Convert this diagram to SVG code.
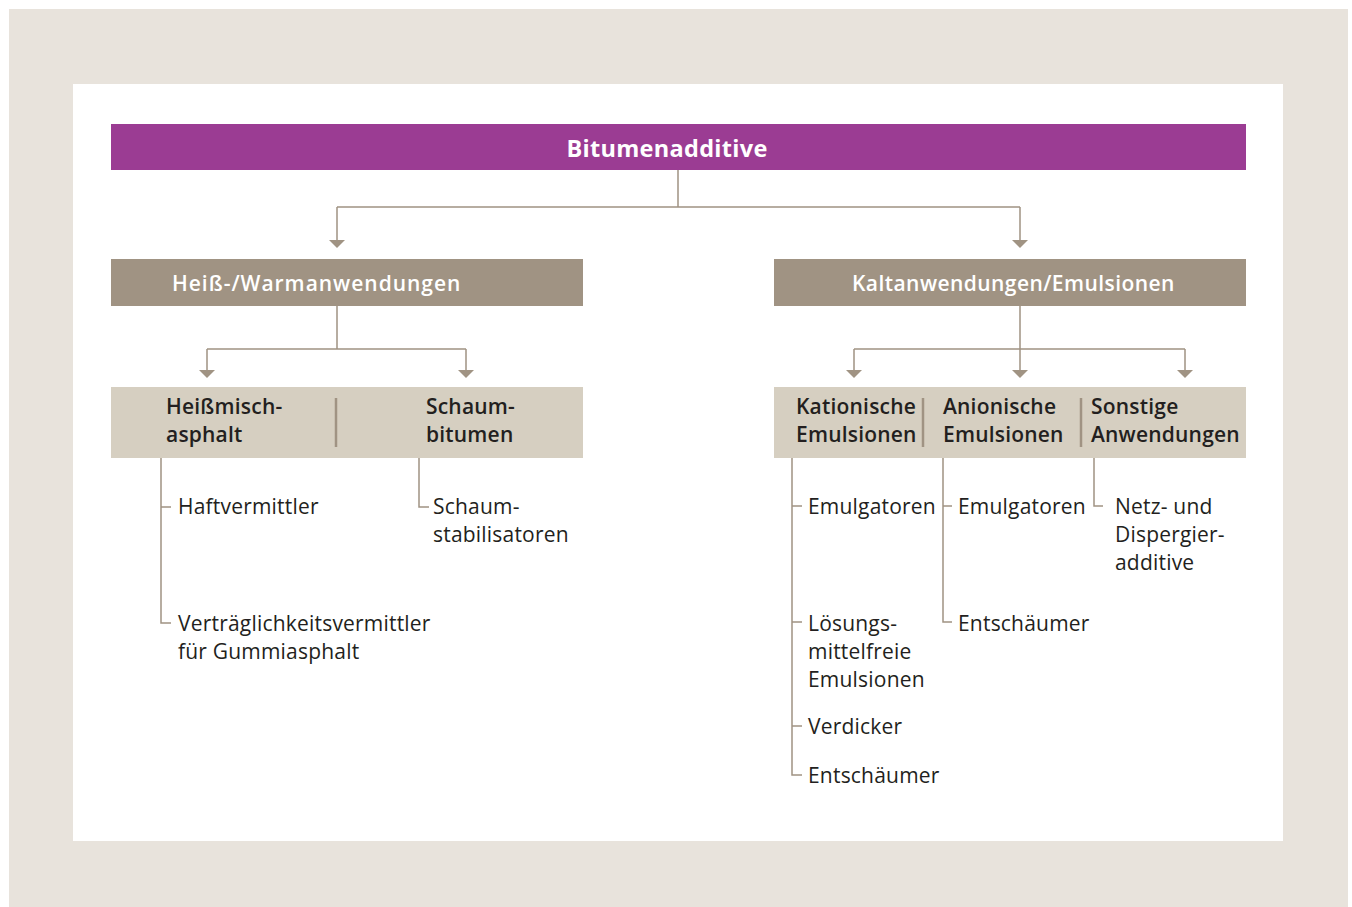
<svg xmlns="http://www.w3.org/2000/svg" width="1352" height="907" viewBox="0 0 1352 907">
<style>
.t{font-family:"Open Sans","Noto Sans","Liberation Sans",sans-serif;font-size:21px;letter-spacing:0.2px;fill:#231f20}
.h{font-family:"Open Sans","Noto Sans","Liberation Sans",sans-serif;font-size:21px;font-weight:600;letter-spacing:0.6px;fill:#ffffff}
.s{font-family:"Open Sans","Noto Sans","Liberation Sans",sans-serif;font-size:21px;font-weight:600;letter-spacing:0.2px;fill:#231f20}
.c{fill:none;stroke:#a09383;stroke-width:1.5}
.sep{stroke:#a09383;stroke-width:2.5}
.a{fill:#a09383}
</style>
<rect x="0" y="0" width="1352" height="907" fill="#ffffff"/>
<rect x="9" y="9" width="1339" height="898" fill="#e8e3dc"/>
<rect x="73" y="84" width="1210" height="757" fill="#ffffff"/>

<g id="connectors">
<path class="c" d="M678,170 V207 M337,207 H1020 M337,207 V240 M1020,207 V240"/>
<path class="a" d="M329,240 L345,240 L337,248 Z"/>
<path class="a" d="M1012,240 L1028,240 L1020,248 Z"/>
<path class="c" d="M337,306 V349 M207,349 H466 M207,349 V370 M466,349 V370"/>
<path class="a" d="M199,370 L215,370 L207,378 Z"/>
<path class="a" d="M458,370 L474,370 L466,378 Z"/>
<path class="c" d="M1020,306 V349 M854,349 H1185 M854,349 V370 M1020,349 V370 M1185,349 V370"/>
<path class="a" d="M846,370 L862,370 L854,378 Z"/>
<path class="a" d="M1012,370 L1028,370 L1020,378 Z"/>
<path class="a" d="M1177,370 L1193,370 L1185,378 Z"/>
<path class="c" d="M161,458 V623 H171 M161,507 H171"/>
<path class="c" d="M419,458 V507 H429"/>
<path class="c" d="M792,458 V775 H802 M792,506 H802 M792,622 H802 M792,726 H802"/>
<path class="c" d="M943,458 V622 H952 M943,506 H952"/>
<path class="c" d="M1094,458 V506 H1103"/>
</g>

<g id="root">
<rect x="111" y="124" width="1135" height="46" fill="#9b3c93"/>
<text x="667" y="157" text-anchor="middle" class="h" style="font-size:23.5px;font-weight:700;letter-spacing:0.3px">Bitumenadditive</text>
</g>

<g id="heiss">
<rect x="111" y="259" width="472" height="47" fill="#a09383"/>
<text x="172" y="291" class="h" textLength="289">Heiß-/Warmanwendungen</text>
</g>
<g id="kalt">
<rect x="774" y="259" width="472" height="47" fill="#a09383"/>
<text x="852" y="291" class="h" textLength="323">Kaltanwendungen/Emulsionen</text>
</g>

<g id="heiss-sub">
<rect x="111" y="387" width="472" height="71" fill="#d6cfc1"/>
<line class="sep" x1="336" y1="398" x2="336" y2="447"/>
<text class="s"><tspan x="166" y="414">Heißmisch-</tspan><tspan x="166" y="442">asphalt</tspan></text>
<text class="s"><tspan x="426" y="414">Schaum-</tspan><tspan x="426" y="442">bitumen</tspan></text>
</g>

<g id="kalt-sub">
<rect x="774" y="387" width="472" height="71" fill="#d6cfc1"/>
<line class="sep" x1="923" y1="398" x2="923" y2="447"/>
<line class="sep" x1="1081" y1="398" x2="1081" y2="447"/>
<text class="s"><tspan x="796" y="414">Kationische</tspan><tspan x="796" y="442">Emulsionen</tspan></text>
<text class="s"><tspan x="943" y="414">Anionische</tspan><tspan x="943" y="442">Emulsionen</tspan></text>
<text class="s"><tspan x="1091" y="414">Sonstige</tspan><tspan x="1091" y="442">Anwendungen</tspan></text>
</g>

<g id="leaf-haft"><text class="t" x="178" y="514">Haftvermittler</text></g>
<g id="leaf-vertr"><text class="t"><tspan x="178" y="631">Verträglichkeitsvermittler</tspan><tspan x="178" y="659">für Gummiasphalt</tspan></text></g>
<g id="leaf-schaum"><text class="t"><tspan x="433" y="514">Schaum-</tspan><tspan x="433" y="542">stabilisatoren</tspan></text></g>
<g id="leaf-emul1"><text class="t" x="808" y="514">Emulgatoren</text></g>
<g id="leaf-loes"><text class="t"><tspan x="808" y="631">Lösungs-</tspan><tspan x="808" y="659">mittelfreie</tspan><tspan x="808" y="687">Emulsionen</tspan></text></g>
<g id="leaf-verd"><text class="t" x="808" y="734">Verdicker</text></g>
<g id="leaf-ent1"><text class="t" x="808" y="783">Entschäumer</text></g>
<g id="leaf-emul2"><text class="t" x="958" y="514">Emulgatoren</text></g>
<g id="leaf-ent2"><text class="t" x="958" y="631">Entschäumer</text></g>
<g id="leaf-netz"><text class="t"><tspan x="1115" y="514">Netz- und</tspan><tspan x="1115" y="542">Dispergier-</tspan><tspan x="1115" y="570">additive</tspan></text></g>
</svg>
